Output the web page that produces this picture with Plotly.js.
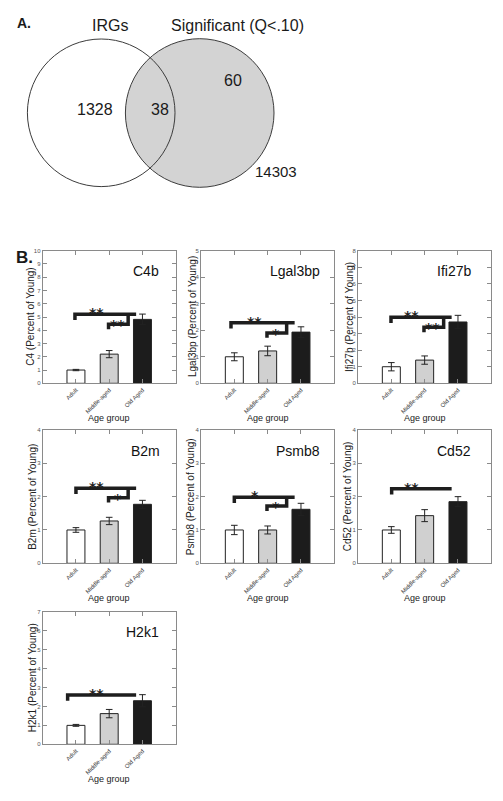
<!DOCTYPE html>
<html>
<head>
<meta charset="utf-8">
<script src="https://cdn.plot.ly/plotly-3.0.1.min.js"></script>
<style>html,body{margin:0;padding:0;background:#fff;}#chart{width:503px;height:801px;}</style>
</head>
<body>
<div id="chart"></div>
<script>
// ---------- DATA ----------
const vennSetNames = ['IRGs', 'Significant (Q<.10)'];
const vennOnlyIRG = 1328;
const vennBoth = 38;
const vennOnlySig = 60;
const vennNeither = 14303;

const genes = ['C4b', 'Lgal3bp', 'Ifi27b', 'B2m', 'Psmb8', 'Cd52', 'H2k1'];
const yTitles = ['C4 (Percent of Young)', 'Lgal3bp (Percent of Young)', 'Ifi27b (Percent of Young)',
  'B2m (Percent of Young)', 'Psmb8 (Percent of Young)', 'Cd52 (Percent of Young)', 'H2k1 (Percent of Young)'];
const groups = ['Adult', 'Middle-aged', 'Old Aged'];
const adultMean  = [1.0, 1.0, 1.0, 1.0, 1.0, 1.0, 1.0];
const middleMean = [2.2, 1.22, 1.4, 1.27, 1.0, 1.43, 1.62];
const oldMean    = [4.82, 1.93, 3.7, 1.77, 1.62, 1.85, 2.3];
const adultErr   = [0.05, 0.15, 0.25, 0.07, 0.14, 0.1, 0.05];
const middleErr  = [0.27, 0.18, 0.25, 0.11, 0.12, 0.18, 0.22];
const oldErr     = [0.4, 0.2, 0.4, 0.12, 0.18, 0.15, 0.32];
const yMax       = [10, 5, 8, 4, 4, 4, 7];
const sigAdultOld  = ['**', '**', '**', '**', '*', '**', '**'];
const sigMiddleOld = ['**', '*', '**', '*', '*', '', ''];
const bracketHigh  = [5.2, 2.28, 3.98, 2.25, 1.98, 2.24, 2.6];
const bracketLow   = [4.45, 1.9, 3.38, 1.97, 1.72, null, null];

// ---------- LAYOUT ----------
const W = 503, H = 801;
const FONT = 'Liberation Sans, Arial, Helvetica, sans-serif';
const STARFONT = 'DejaVu Sans, Liberation Sans, sans-serif';
const px = x => x / W;
const py = y => 1 - y / H;
const cols = [[42.7, 175.7], [201, 334.3], [358, 491.3]];
const rows = [[250.7, 383.3], [430, 563.3], [611.7, 744.3]];
const labelRight = [0.893, 0.905, 0.86, 0.898, 0.907, 0.86, 0.893];
const bigStart = [-0.03, -0.1, -0.01, 0.0, 0.0, 0.01, -0.25];
const titleOffset = [11, 7, 7, 8.5, 8.5, 8.5, 8.5];

const data = [];
const layout = {
  width: W, height: H,
  margin: {l: 0, r: 0, t: 0, b: 0},
  paper_bgcolor: '#ffffff', plot_bgcolor: '#ffffff',
  showlegend: false,
  font: {family: FONT, color: '#222'},
  shapes: [], annotations: []
};

// Venn diagram
const vennLine = {color: '#3c3c3c', width: 1};
layout.shapes.push({type: 'circle', xref: 'paper', yref: 'paper', layer: 'above',
  x0: px(125.4), x1: px(274), y0: py(187.3), y1: py(38.7), fillcolor: '#d3d3d3', line: vennLine});
layout.shapes.push({type: 'circle', xref: 'paper', yref: 'paper', layer: 'above',
  x0: px(27.4), x1: px(175), y0: py(186.6), y1: py(39), fillcolor: 'rgba(0,0,0,0)', line: vennLine});
function paperText(text, x, y, size, opts) {
  layout.annotations.push(Object.assign({text: text, xref: 'paper', yref: 'paper', x: px(x), y: py(y),
    xanchor: 'center', yanchor: 'middle', showarrow: false, font: {family: FONT, size: size, color: '#1a1a1a'}}, opts || {}));
}
paperText('<b>A.</b>', 15, 23.5, 14, {xanchor: 'left'});
paperText('<b>B.</b>', 14, 257.5, 17, {xanchor: 'left'});
paperText(vennSetNames[0], 109.7, 25.8, 16);
paperText(vennSetNames[1], 237.8, 25.3, 16);
paperText(String(vennOnlyIRG), 95, 109.2, 16);
paperText(String(vennBoth), 159.5, 109.2, 16);
paperText(String(vennOnlySig), 233.3, 80.8, 16);
paperText(String(vennNeither), 275.5, 171.2, 15);

// Bar panels
genes.forEach((g, i) => {
  const n = i + 1;
  const xa = 'x' + n, ya = 'y' + n;
  const xKey = 'xaxis' + n, yKey = 'yaxis' + n;
  const c = cols[i % 3], r = rows[Math.floor(i / 3)];
  const axCommon = {showline: true, linecolor: '#8a8a8a', linewidth: 1, mirror: 'ticks',
    ticks: 'inside', ticklen: 4, tickcolor: '#8a8a8a', tickwidth: 1,
    showgrid: false, zeroline: false, fixedrange: true};
  layout[xKey] = Object.assign({}, axCommon, {
    domain: [px(c[0]), px(c[1])], anchor: ya, type: 'category',
    range: [-1, 3], tickangle: -45,
    tickfont: {family: FONT, size: 6, color: '#444'}
  });
  layout[yKey] = Object.assign({}, axCommon, {
    domain: [py(r[1]), py(r[0])], anchor: xa,
    range: [0, yMax[i]], dtick: 1, tick0: 0,
    tickfont: {family: FONT, size: 6, color: '#555'}
  });

  data.push({
    type: 'bar', xaxis: xa, yaxis: ya,
    x: groups,
    y: [adultMean[i], middleMean[i], oldMean[i]],
    width: 0.54,
    marker: {color: ['#ffffff', '#d0d0d0', '#1c1c1c'], line: {color: '#222', width: 1}},
    error_y: {type: 'data', array: [adultErr[i], middleErr[i], oldErr[i]], visible: true,
      color: '#222', thickness: 1, width: 3.3},
    hoverinfo: 'skip'
  });

  // significance brackets
  const ym = yMax[i];
  const hi = bracketHigh[i];
  const s0 = bigStart[i], end = 1.81, conn = 1.57, s1 = 0.98;
  const bl = {color: '#1e1e1e', width: 3.5};
  layout.shapes.push({type: 'path', xref: xa, yref: ya, line: bl,
    path: `M ${s0},${hi - 0.043 * ym} L ${s0},${hi} L ${end},${hi}`});
  layout.annotations.push({xref: xa, yref: ya, x: 0.62, y: hi, text: sigAdultOld[i],
    showarrow: false, xanchor: 'center', yanchor: 'middle', yshift: 1,
    font: {family: STARFONT, size: 14, color: '#1e1e1e', weight: 'bold'}});
  if (bracketLow[i] !== null) {
    const lo = bracketLow[i];
    layout.shapes.push({type: 'path', xref: xa, yref: ya, line: bl,
      path: `M ${conn},${hi} L ${conn},${lo} L ${s1},${lo} L ${s1},${lo - 0.037 * ym}`});
    layout.annotations.push({xref: xa, yref: ya, x: 1.25, y: lo, text: sigMiddleOld[i],
      showarrow: false, xanchor: 'center', yanchor: 'middle', yshift: -1,
      font: {family: STARFONT, size: 14, color: '#1e1e1e', weight: 'bold'}});
  }

  // gene label
  layout.annotations.push({xref: xa + ' domain', yref: ya + ' domain', x: labelRight[i],
    y: 1 - 20.5 / 132.6, text: g, showarrow: false, xanchor: 'right', yanchor: 'middle',
    font: {family: FONT, size: 14, color: '#111'}});
  // y title
  paperText(yTitles[i], c[0] - titleOffset[i] - 2, (r[0] + r[1]) / 2, 10,
    {textangle: -90, font: {family: FONT, size: 10, color: '#222'}});
  // x title
  paperText('Age group', (c[0] + c[1]) / 2, r[1] + 35, 9, {font: {family: FONT, size: 9, color: '#222'}});
});

Plotly.newPlot('chart', data, layout, {displayModeBar: false, staticPlot: true});
</script>
</body>
</html>
